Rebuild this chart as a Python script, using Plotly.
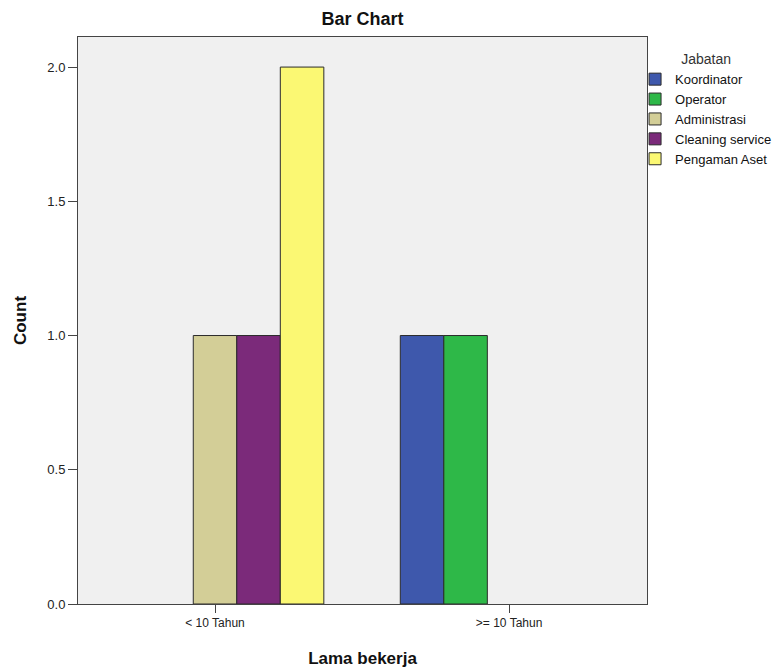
import plotly.graph_objects as go

categories = ["< 10 Tahun", ">= 10 Tahun"]
series_names = ["Koordinator", "Operator", "Administrasi", "Cleaning service", "Pengaman Aset"]
koordinator = [None, 1]
operator = [None, 1]
administrasi = [1, None]
cleaning_service = [1, None]
pengaman_aset = [2, None]
colors = ["#3E58AC", "#2EB848", "#D3CE97", "#7B2A7A", "#FBF873"]

series_values = [koordinator, operator, administrasi, cleaning_service, pengaman_aset]
xpos = list(range(len(categories)))

fig = go.Figure()
for name, vals, col in zip(series_names, series_values, colors):
    fig.add_trace(go.Bar(
        x=xpos, y=vals, name=name,
        marker=dict(color=col, line=dict(color="#2b2b2b", width=1)),
    ))

# page body has an 8px margin, so the figure is drawn 8px in from the top-left
W, H = 772, 660
L, R, T, B = 70, 133, 29, 64
pw = W - L - R

font_family = "Liberation Sans, Arial, sans-serif"
fig.update_layout(
    width=W, height=H,
    barmode="group", bargap=0.26, bargroupgap=0,
    paper_bgcolor="white", plot_bgcolor="#F0F0F0",
    margin=dict(l=L, r=R, t=T, b=B, autoexpand=False),
    font=dict(family=font_family, size=12, color="#222"),
    title=dict(text="<b>Bar Chart</b>", x=(L + pw / 2) / W, xanchor="center",
               y=1 - 11 / H, yanchor="middle", font=dict(size=18, color="#111")),
    legend=dict(
        title=dict(text="Jabatan", font=dict(size=14, color="#333"), side="top center"),
        x=0.979, xanchor="left", y=1 - 9 / (H - T - B), yanchor="top",
        font=dict(size=13, color="#111"),
        tracegroupgap=0, itemwidth=30,
        bgcolor="rgba(0,0,0,0)",
    ),
    xaxis=dict(
        tickvals=xpos, ticktext=categories, range=[-0.466, 1.469],
        showgrid=False, zeroline=False, automargin=False,
        showline=True, linecolor="#444", linewidth=1, mirror=True,
        ticks="outside", ticklen=8, tickcolor="#444",
        tickfont=dict(size=12, color="#222"),
        title=dict(text="<b>Lama bekerja</b>", font=dict(size=17, color="#111"), standoff=22),
    ),
    yaxis=dict(
        range=[0, 2.112], tickvals=[0, 0.5, 1.0, 1.5, 2.0],
        ticktext=["0.0", "0.5", "1.0", "1.5", "2.0"],
        showgrid=False, zeroline=False, automargin=False,
        showline=True, linecolor="#444", linewidth=1, mirror=True,
        ticks="outside", ticklen=9, tickcolor="#444",
        tickfont=dict(size=13, color="#222"),
        title=dict(text="<b>Count</b>", font=dict(size=17, color="#111"), standoff=16),
    ),
)

fig.write_html("out.html")
